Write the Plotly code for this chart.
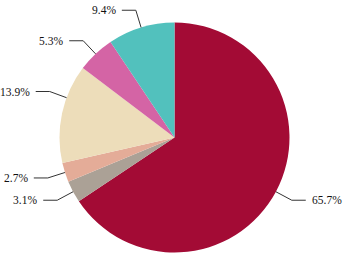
import math
import plotly.graph_objects as go

# ---- data ----
labels = ["A", "B", "C", "D", "E", "F"]
values = [65.7, 3.1, 2.7, 13.9, 5.3, 9.4]
text_labels = ["65.7%", "3.1%", "2.7%", "13.9%", "5.3%", "9.4%"]
colors = ["#A30B35", "#ABA196", "#E4AC98", "#EDDDBA", "#D464A5", "#52C1BD"]

W, H = 347, 259
FS = 11.5
# pie placement (pixels)
cx, cy, R = 174.5, 137.5, 115.0
L1, L2, GAP, EDGE = 18, 14, 4, 2

fig = go.Figure(go.Pie(
    labels=labels,
    values=values,
    sort=False,
    direction="clockwise",
    rotation=0,
    textinfo="none",
    hoverinfo="none",
    marker=dict(colors=colors, line=dict(width=0)),
    domain=dict(x=[(cx - R) / W, (cx + R) / W], y=[1 - (cy + R) / H, 1 - (cy - R) / H]),
    showlegend=False,
))


def text_width(t):
    w = 0.0
    for ch in t:
        if ch.isdigit():
            w += 0.5
        elif ch == ".":
            w += 0.25
        elif ch == "%":
            w += 0.833
        else:
            w += 0.5
    return w * FS


def px(x):
    return x / W


def py(y):
    return 1 - y / H


total = sum(values)
cum = 0.0
shapes = []
annotations = []
for v, t in zip(values, text_labels):
    theta = 2 * math.pi * (cum + v / 2) / total
    cum += v
    s, c = math.sin(theta), math.cos(theta)
    side = 1 if s >= 0 else -1
    # keep label inside the canvas: rotate connector away from horizontal if needed
    tw = text_width(t)
    if side < 0:
        x1_min = EDGE + tw + GAP + L2
        x1 = cx + (R + L1) * s
        if x1 < x1_min:
            ang = math.acos(min(1.0, (cx - x1_min) / (R + L1)))  # angle from horizontal
            sign_up = 1 if c > 0 else -1
            s = -math.cos(ang)
            c = sign_up * math.sin(ang)
    else:
        x1_max = W - EDGE - tw - GAP - L2
        x1 = cx + (R + L1) * s
        if x1 > x1_max:
            ang = math.acos(min(1.0, (x1_max - cx) / (R + L1)))
            sign_up = 1 if c > 0 else -1
            s = math.cos(ang)
            c = sign_up * math.sin(ang)
    x0, y0 = cx + R * s, cy - R * c
    x1, y1 = cx + (R + L1) * s, cy - (R + L1) * c
    x2, y2 = x1 + side * L2, y1
    shapes.append(dict(
        type="path", xref="paper", yref="paper",
        path=f"M {px(x0)},{py(y0)} L {px(x1)},{py(y1)} L {px(x2)},{py(y2)}",
        line=dict(color="#333333", width=1),
    ))
    annotations.append(dict(
        x=px(x2 + side * GAP), y=py(y2), xref="paper", yref="paper",
        text=t, showarrow=False,
        xanchor="left" if side > 0 else "right", yanchor="middle",
        font=dict(family="Liberation Serif, Times New Roman, serif", size=FS, color="#111111"),
    ))

fig.update_layout(
    width=W, height=H,
    margin=dict(l=0, r=0, t=0, b=0),
    paper_bgcolor="white",
    plot_bgcolor="white",
    shapes=shapes,
    annotations=annotations,
)

fig.write_html("out.html")
